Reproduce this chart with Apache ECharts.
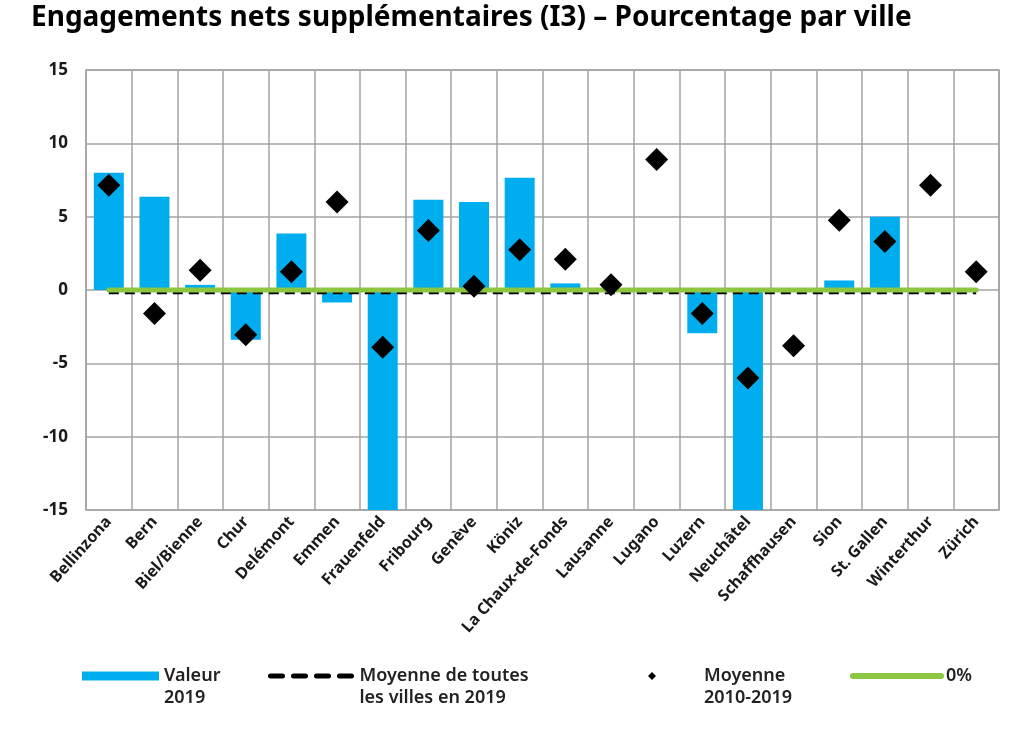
<!DOCTYPE html>
<html>
<head>
<meta charset="utf-8" />
<script src="https://cdn.jsdelivr.net/npm/echarts@6/dist/echarts.min.js"></script>
<style>
	html, body { margin: 0; padding: 0; background: #fff; }
	#chart { width: 1024px; height: 729px; }
</style>
</head>
<body>
<div id="chart"></div>
<script type="text/javascript">
// villes
var villes = ['Bellinzona', 'Bern', 'Biel/Bienne', 'Chur', 'Delémont', 'Emmen', 'Frauenfeld',
	'Fribourg', 'Genève', 'Köniz', 'La Chaux-de-Fonds', 'Lausanne', 'Lugano', 'Luzern',
	'Neuchâtel', 'Schaffhausen', 'Sion', 'St. Gallen', 'Winterthur', 'Zürich'];

// valeur 2019 (Frauenfeld et Neuchâtel dépassent -15, coupés par l'axe)
var valeur2019 = [8.0, 6.35, 0.35, -3.4, 3.85, -0.85, -17, 6.15, 6.0, 7.65, 0.45, 0.05, -0.15,
	-2.95, -17, 0, 0.65, 5.0, 0, 0];
// moyenne 2010-2019
var moyenne1019 = [7.15, -1.6, 1.35, -3.05, 1.25, 6.0, -3.9, 4.05, 0.25, 2.75, 2.1, 0.35, 8.9,
	-1.6, -6.0, -3.8, 4.75, 3.3, 7.15, 1.25];
// moyenne de toutes les villes en 2019
var moyenneVilles = -0.2;
var yTicks = { min: -15, max: 15, interval: 5 };

var dashedData = villes.map(function () { return moyenneVilles; });
var zeroData = villes.map(function () { return 0; });

var chart = echarts.init(document.getElementById('chart'));
var gris = '#a3a3a3';
var texte = '#1a1a1a';
var police = '"Noto Sans", sans-serif';

// légende : une ligne vide devant le nom pour aligner le symbole sur la 1re ligne
var legendeBase = {
	top: 643,
	padding: 0,
	selectedMode: false,
	formatter: '\n{name}',
	textStyle: { color: '#222', fontSize: 18, fontWeight: 600, fontFamily: police, lineHeight: 22 }
};
function legende(opts) {
	return echarts.util.extend(echarts.util.extend({}, legendeBase), opts);
}

option = {
	animation: false,
	title: {
		text: 'Engagements nets supplémentaires (I3) – Pourcentage par ville',
		left: 31, top: 4, padding: 0,
		textStyle: { fontSize: 28, fontWeight: 'bold', color: '#000', fontFamily: police }
	},
	legend: [
		legende({ left: 82, data: ['Valeur\n2019'], icon: 'rect', itemWidth: 77, itemHeight: 9 }),
		legende({ left: 268, data: ['Moyenne de toutes\nles villes en 2019'], itemWidth: 84, itemHeight: 10,
			itemStyle: { opacity: 0 },
			lineStyle: { color: '#000', width: 5, type: [12, 11], cap: 'round' } }),
		legende({ left: 648, data: ['Moyenne\n2010-2019'], icon: 'path://M0,-1L1,0L0,1L-1,0Z', itemWidth: 94, itemHeight: 8 }),
		legende({ left: 850, top: 665, data: ['0%'], itemWidth: 88, itemHeight: 10, formatter: '{name}',
			itemStyle: { opacity: 0 },
			lineStyle: { color: '#8dc641', width: 6, cap: 'round' } })
	],
	grid: {
		left: 86, right: 25, top: 70, bottom: 219,
		show: true, borderColor: gris, borderWidth: 1.5
	},
	xAxis: {
		type: 'category',
		data: villes,
		axisLine: { show: false },
		axisTick: { show: false },
		splitLine: { show: true, lineStyle: { color: gris, width: 1.5 } },
		axisLabel: { rotate: 48, margin: 9, interval: 0, fontSize: 16, fontWeight: 'bold', color: texte, fontFamily: police }
	},
	yAxis: {
		type: 'value',
		min: yTicks.min, max: yTicks.max, interval: yTicks.interval,
		axisLine: { show: false },
		axisTick: { show: false },
		splitLine: { lineStyle: { color: gris, width: 1.5 } },
		axisLabel: { margin: 18, fontSize: 17, fontWeight: 'bold', color: texte, fontFamily: police }
	},
	series: [
		{
			name: 'Valeur\n2019',
			type: 'bar',
			data: valeur2019,
			barWidth: 30,
			itemStyle: { color: '#00aeef' },
			z: 2
		},
		{
			name: 'Moyenne de toutes\nles villes en 2019',
			type: 'line',
			data: dashedData,
			symbol: 'none',
			lineStyle: { color: '#000', width: 2.5, type: [10, 6] },
			itemStyle: { color: '#000' },
			z: 3
		},
		{
			name: '0%',
			type: 'line',
			data: zeroData,
			symbol: 'none',
			lineStyle: { color: '#8dc641', width: 5, cap: 'round' },
			itemStyle: { color: '#8dc641' },
			z: 4
		},
		{
			name: 'Moyenne\n2010-2019',
			type: 'scatter',
			data: moyenne1019,
			symbol: 'diamond',
			symbolSize: 23,
			itemStyle: { color: '#000', opacity: 1 },
			z: 5
		}
	]
};
chart.setOption(option);
</script>
</body>
</html>
